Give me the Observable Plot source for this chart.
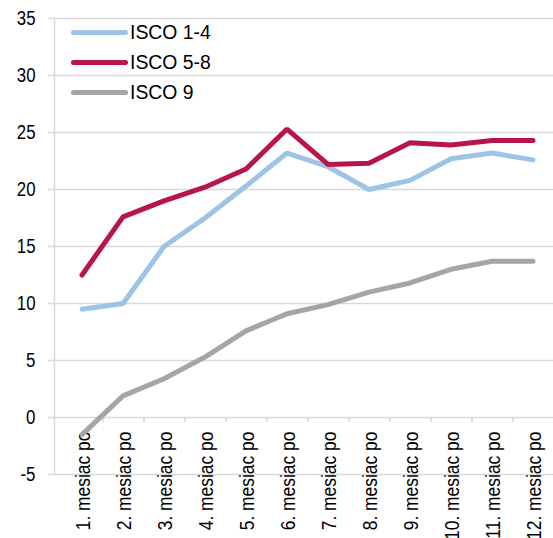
<!DOCTYPE html>
<html>
<head>
<meta charset="utf-8">
<script src="https://cdn.jsdelivr.net/npm/d3@7"></script>
<script src="https://cdn.jsdelivr.net/npm/@observablehq/plot@0.6"></script>
<style>
  html, body { margin: 0; padding: 0; background: #fff; }
  #wrap { position: relative; width: 553px; height: 538px; overflow: hidden; }
  #legend { position: absolute; left: 71px; top: 17px; font-family: "Liberation Sans", Arial, sans-serif; font-size: 20px; color: #000; }
  .item { display: flex; align-items: center; height: 30px; }
  .sw { width: 57px; height: 5px; border-radius: 3px; margin-right: 2px; }
  .lt { display: inline-block; transform: scaleX(0.97); transform-origin: left center; white-space: nowrap; }
</style>
</head>
<body>
<div id="wrap"><div id="legend"></div></div>
<script>
const categories = ["1. mesiac po","2. mesiac po","3. mesiac po","4. mesiac po","5. mesiac po","6. mesiac po","7. mesiac po","8. mesiac po","9. mesiac po","10. mesiac po","11. mesiac po","12. mesiac po"];
const seriesNames = ["ISCO 1-4", "ISCO 5-8", "ISCO 9"];
const isco14 = [9.5, 10.0, 15.0, 17.5, 20.3, 23.2, 22.0, 20.0, 20.8, 22.7, 23.2, 22.6];
const isco58 = [12.5, 17.6, 19.0, 20.2, 21.8, 25.3, 22.2, 22.3, 24.1, 23.9, 24.3, 24.3];
const isco9 = [-1.5, 1.9, 3.4, 5.3, 7.6, 9.1, 9.9, 11.0, 11.8, 13.0, 13.7, 13.7];
const yTicks = [-5, 0, 5, 10, 15, 20, 25, 30, 35];
const colors = ["#9dc3e6", "#b8164a", "#a5a5a5"];

const seriesValues = [isco14, isco58, isco9];
const data = seriesNames.flatMap((s, i) => categories.map((c, j) => ({series: s, cat: c, value: seriesValues[i][j]})));

const font = '"Liberation Sans", Arial, sans-serif';
const grid = "#d9d9d9";

const chart = Plot.plot({
  width: 553,
  height: 538,
  marginTop: 18,
  marginBottom: 64,
  marginLeft: 54,
  marginRight: 0,
  style: {fontFamily: font, fontSize: "20px", color: "#000", background: "#fff"},
  x: {type: "band", domain: categories, range: [54, 560], axis: null},
  y: {domain: [-5, 35], axis: null},
  color: {domain: seriesNames, range: colors},
  marks: [
    Plot.ruleY(yTicks, {stroke: grid, strokeWidth: 1.5, insetLeft: -6}),
    Plot.frame({anchor: "left", stroke: grid, strokeWidth: 1.5}),
    Plot.axisY(yTicks, {tickSize: 0, tickPadding: 19, fontSize: 20.5, textStroke: "none", label: null, tickFormat: d => String(d), className: "squeezey"}),
    Plot.ruleX(categories, {x: d => d, y1: 0, y2: -0.45, dx: 21, stroke: grid, strokeWidth: 1.5}),
    Plot.text(categories, {x: d => d, y: 0, text: d => d, rotate: -90, textAnchor: "end", dy: 14, dx: 1, fontSize: 20.5, fill: "#000", className: "squeezex"}),
    Plot.line(data, {x: "cat", y: "value", stroke: "series", z: "series", strokeWidth: 5, strokeLinecap: "round", strokeLinejoin: "miter"})
  ]
});
const wrap = document.getElementById("wrap");
wrap.insertBefore(chart, wrap.firstChild);

// condense text horizontally along its baseline (narrow typeface look)
function squeeze(sel, k) {
  chart.querySelectorAll(sel).forEach(t => {
    const len = t.getComputedTextLength();
    t.setAttribute("textLength", (len * k).toFixed(1));
    t.setAttribute("lengthAdjust", "spacingAndGlyphs");
  });
}
squeeze("g.squeezey text", 0.82);
squeeze("g.squeezex text", 0.85);

const legend = document.getElementById("legend");
seriesNames.forEach((s, i) => {
  const it = document.createElement("div");
  it.className = "item";
  const sw = document.createElement("div");
  sw.className = "sw";
  sw.style.background = colors[i];
  const t = document.createElement("span");
  t.className = "lt";
  t.textContent = s;
  it.appendChild(sw); it.appendChild(t);
  legend.appendChild(it);
});
</script>
</body>
</html>
